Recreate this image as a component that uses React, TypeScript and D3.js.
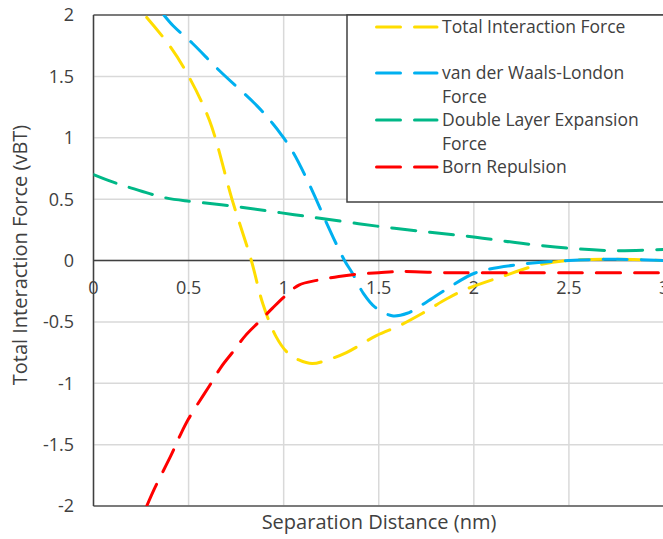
import React from "react";
import * as d3 from "d3";

const xTicks = [0, 0.5, 1, 1.5, 2, 2.5, 3];
const yTicks = [2, 1.5, 1, 0.5, 0, -0.5, -1, -1.5, -2];

const totalX = [0.28, 0.4, 0.49, 0.61, 0.73, 0.83, 0.89, 0.96, 1.02, 1.08, 1.15, 1.23, 1.33, 1.49, 1.61, 1.73, 1.86, 1.95, 2.15, 2.33, 2.5, 2.75, 3];
const totalY = [1.98, 1.75, 1.53, 1.14, 0.49, 0.0, -0.35, -0.62, -0.75, -0.81, -0.84, -0.81, -0.75, -0.61, -0.53, -0.43, -0.31, -0.24, -0.13, -0.04, 0.0, 0.01, 0.0];

const vdwX = [0.37, 0.42, 0.52, 0.66, 0.86, 0.94, 0.99, 1.05, 1.15, 1.23, 1.32, 1.36, 1.42, 1.48, 1.57, 1.65, 1.75, 1.86, 2.01, 2.25, 2.5, 2.75, 3];
const vdwY = [2.0, 1.91, 1.77, 1.55, 1.26, 1.12, 1.02, 0.88, 0.57, 0.29, 0.0, -0.1, -0.27, -0.38, -0.45, -0.43, -0.34, -0.23, -0.1, -0.03, 0.0, 0.01, 0.0];

const dlX = [0, 0.1, 0.2, 0.38, 0.52, 0.75, 0.98, 1.21, 1.49, 1.77, 2.01, 2.25, 2.5, 2.75, 3];
const dlY = [0.7, 0.64, 0.59, 0.51, 0.48, 0.44, 0.39, 0.34, 0.28, 0.23, 0.19, 0.14, 0.1, 0.08, 0.09];

const bornX = [0.28, 0.32, 0.41, 0.46, 0.5, 0.56, 0.61, 0.67, 0.73, 0.8, 0.87, 0.94, 1.0, 1.08, 1.18, 1.29, 1.4, 1.5, 1.61, 1.86, 2.0, 2.5, 3];
const bornY = [-2.0, -1.86, -1.58, -1.41, -1.29, -1.14, -1.02, -0.87, -0.75, -0.61, -0.5, -0.39, -0.3, -0.2, -0.16, -0.13, -0.11, -0.1, -0.09, -0.1, -0.1, -0.1, -0.1];

const seriesColors = ["#FFDD00", "#00B0F0", "#00B887", "#FF0000"];
const legendLines = [["Total Interaction Force"], ["van der Waals-London", "Force"], ["Double Layer Expansion", "Force"], ["Born Repulsion"]];

export default function App() {
  const x = d3.scaleLinear().domain([0, 3]).range([93.5, 664]);
  const y = d3.scaleLinear().domain([-2, 2]).range([506, 15]);
  const line = d3
    .line<[number, number]>()
    .x((d) => x(d[0]))
    .y((d) => y(d[1]))
    .curve(d3.curveCatmullRom.alpha(0.5));

  const series = [
    d3.zip(totalX, totalY),
    d3.zip(vdwX, vdwY),
    d3.zip(dlX, dlY),
    d3.zip(bornX, bornY),
  ] as [number, number][][];

  const font = "'Open Sans', 'Noto Sans', sans-serif";
  const legendRowY = [27, 73, 120, 167];
  const legendSub = [0, 24, 24, 0];

  return (
    <svg width={663} height={539} style={{ position: "absolute", left: 0, top: 0, background: "#fff" }} fontFamily={font}>
      <defs>
        <clipPath id="plot">
          <rect x={x(0)} y={y(2)} width={x(3) - x(0)} height={y(-2) - y(2)} />
        </clipPath>
      </defs>
      {xTicks.map((t) => (
        <line key={"gx" + t} x1={x(t)} x2={x(t)} y1={y(2)} y2={y(-2)} stroke="#d9d9d9" strokeWidth={1.5} />
      ))}
      {yTicks.map((t) => (
        <line key={"gy" + t} x1={x(0)} x2={x(3)} y1={y(t)} y2={y(t)} stroke="#d9d9d9" strokeWidth={1.5} />
      ))}
      <line x1={x(0)} x2={x(3)} y1={y(2)} y2={y(2)} stroke="#595959" strokeWidth={1.5} />
      <line x1={x(0)} x2={x(3)} y1={y(-2)} y2={y(-2)} stroke="#595959" strokeWidth={1.5} />
      <line x1={x(0)} x2={x(3)} y1={y(0)} y2={y(0)} stroke="#404040" strokeWidth={1.5} />
      <line x1={x(0)} x2={x(0)} y1={y(2)} y2={y(-2)} stroke="#404040" strokeWidth={1.5} />
      {yTicks.map((t) => (
        <text key={"ty" + t} x={74} y={y(t)} dy="0.36em" textAnchor="end" fontSize={18} fill="#404040">
          {String(t)}
        </text>
      ))}
      {xTicks.map((t) => (
        <text key={"tx" + t} x={x(t)} y={288} dy="0.36em" textAnchor={t === 3 ? "start" : "middle"} dx={t === 3 ? -5 : 0} fontSize={18} fill="#404040">
          {String(t)}
        </text>
      ))}
      <g clipPath="url(#plot)">
        {series.map((s, i) => (
          <path
            key={"s" + i}
            d={line(s) || ""}
            fill="none"
            stroke={seriesColors[i]}
            strokeWidth={3}
            strokeDasharray="24 14"
            strokeLinecap="round"
          />
        ))}
      </g>
      <rect x={347} y={15} width={330} height={187} fill="#fff" stroke="#404040" strokeWidth={1.5} />
      {legendLines.map((lines, i) => (
        <g key={"lg" + i}>
          <line
            x1={376.5}
            x2={437}
            y1={legendRowY[i]}
            y2={legendRowY[i]}
            stroke={seriesColors[i]}
            strokeWidth={3}
            strokeDasharray="24 14"
            strokeLinecap="round"
          />
          {lines.map((l, j) => (
            <text key={j} x={442} y={legendRowY[i] + j * legendSub[i]} dy="0.36em" fontSize={17.5} fill="#404040">
              {l}
            </text>
          ))}
        </g>
      ))}
      <text x={379} y={522} dy="0.36em" textAnchor="middle" fontSize={20} fill="#404040">
        Separation Distance (nm)
      </text>
      <text transform={`translate(20,255) rotate(-90)`} textAnchor="middle" dy="0.36em" fontSize={20} fill="#404040">
        Total Interaction Force (vBT)
      </text>
    </svg>
  );
}
